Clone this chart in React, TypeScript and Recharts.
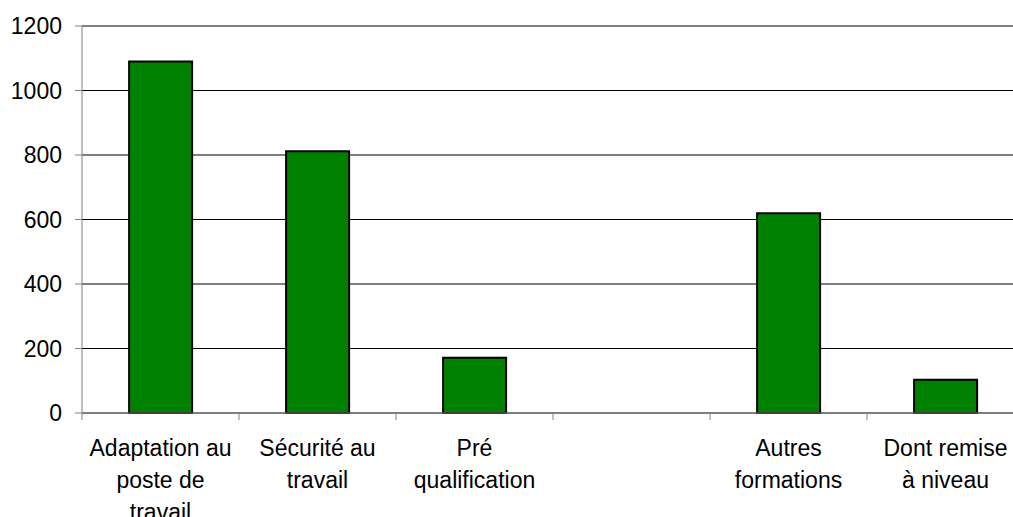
import { BarChart, Bar, XAxis, YAxis, CartesianGrid } from 'recharts';

const CATEGORIES = ['adaptation', 'securite', 'prequal', 'vide', 'autres', 'remise'];
const LABELS: string[][] = [
  ['Adaptation au', 'poste de', 'travail'],
  ['Sécurité au', 'travail'],
  ['Pré', 'qualification'],
  [],
  ['Autres', 'formations'],
  ['Dont remise', 'à niveau'],
];
const VALUES: (number | null)[] = [1090, 812, 171, null, 619, 103];
const Y_TICKS = [0, 200, 400, 600, 800, 1000, 1200];

const FONT = '"Liberation Sans", Arial, sans-serif';

const data = CATEGORIES.map((key, i) => ({ key, idx: i, value: VALUES[i] }));

// Multi-line category label, plus a tick mark on the left boundary of the band
function CategoryTick(props: any) {
  const { x, y, payload } = props;
  const lines = LABELS[payload.value] || [];
  const half = payload.offset ?? 0;
  return (
    <g>
      <line x1={x - half} x2={x - half} y1={y - 4} y2={y + 3} stroke="#808080" strokeWidth={1} />
      <text x={x} y={y + 38.5} textAnchor="middle" fontFamily={FONT} fontSize={23} fill="#000">
        {lines.map((line, i) => (
          <tspan key={i} x={x} dy={i === 0 ? 0 : 32}>
            {line}
          </tspan>
        ))}
      </text>
    </g>
  );
}

export default function App() {
  return (
    <div style={{ position: 'absolute', left: 0, top: 0, width: 1013, height: 517, overflow: 'hidden', background: '#fff' }}>
      <BarChart
        width={1040}
        height={517}
        data={data}
        margin={{ top: 26, right: 16, left: 0, bottom: 0 }}
        barCategoryGap="30%"
      >
        <CartesianGrid vertical={false} stroke="#000" strokeWidth={1} />
        <XAxis
          dataKey="idx"
          height={104}
          interval={0}
          tickLine={false}
          axisLine={{ stroke: '#808080', strokeWidth: 1 }}
          tick={<CategoryTick />}
          tickSize={4}
          tickMargin={0}
        />
        <YAxis
          width={82}
          domain={[0, 1200]}
          ticks={Y_TICKS}
          interval={0}
          tickSize={7}
          tickMargin={13}
          axisLine={{ stroke: '#808080', strokeWidth: 1 }}
          tickLine={{ stroke: '#808080', strokeWidth: 1 }}
          tick={{ fontFamily: FONT, fontSize: 23, fill: '#000' }}
        />
        <Bar dataKey="value" fill="#008000" stroke="#000" strokeWidth={2} isAnimationActive={false} />
      </BarChart>
    </div>
  );
}
